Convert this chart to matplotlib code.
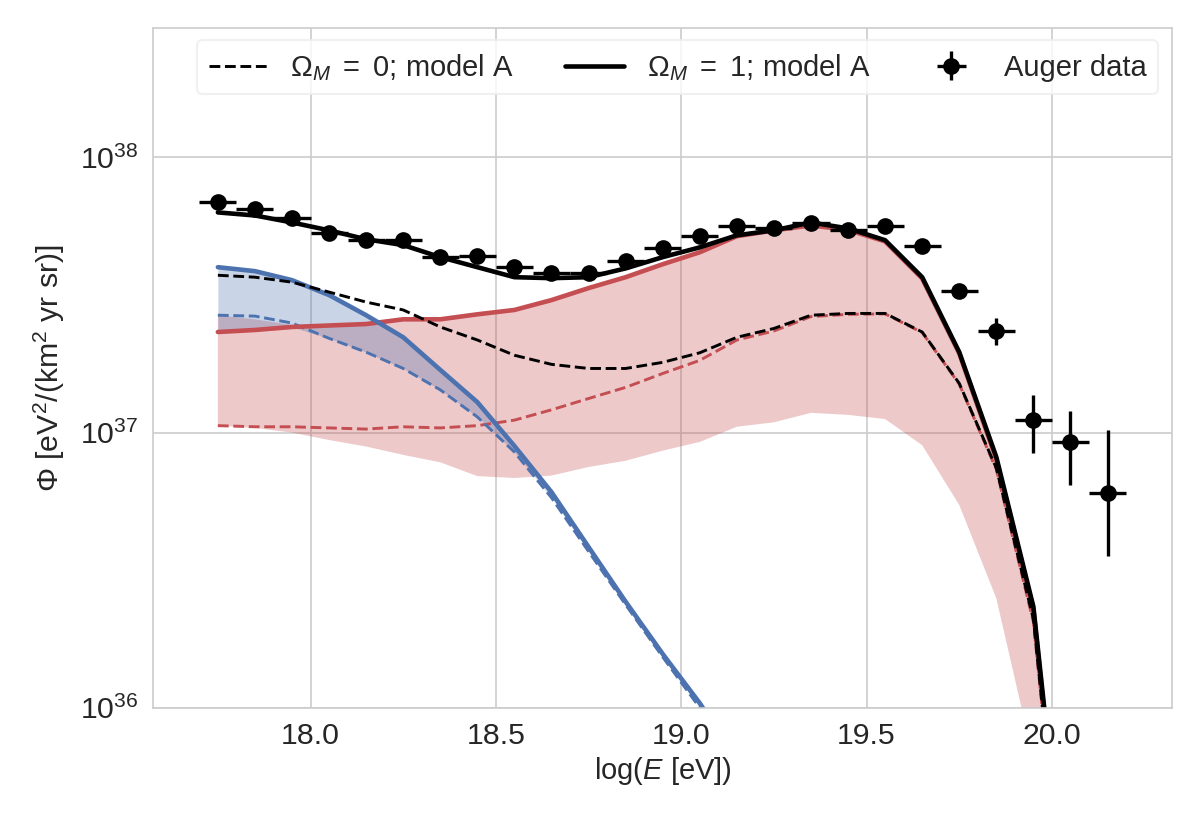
import numpy as np
import matplotlib
matplotlib.use("Agg")
import matplotlib.pyplot as plt
import seaborn as sns

sns.set_style("whitegrid")
plt.rcParams["font.family"] = ["Liberation Sans", "DejaVu Sans"]
plt.rcParams["mathtext.fontset"] = "custom"
plt.rcParams["mathtext.rm"] = "Liberation Sans"
plt.rcParams["mathtext.it"] = "Liberation Sans:italic"
plt.rcParams["mathtext.bf"] = "Liberation Sans:bold"

# Auger data
logE_data = [17.75, 17.85, 17.95, 18.05, 18.15, 18.25, 18.35, 18.45, 18.55, 18.65,
             18.75, 18.85, 18.95, 19.05, 19.15, 19.25, 19.35, 19.45, 19.55, 19.65,
             19.75, 19.85, 19.95, 20.05, 20.15]
auger_flux = [6.87e37, 6.47e37, 6.01e37, 5.30e37, 5.00e37, 5.00e37, 4.34e37, 4.37e37,
              3.99e37, 3.80e37, 3.80e37, 4.20e37, 4.68e37, 5.17e37, 5.62e37, 5.52e37,
              5.76e37, 5.43e37, 5.62e37, 4.76e37, 3.27e37, 2.34e37, 1.11e37, 9.25e36,
              6.03e36]
auger_err_lo = [0.8e36, 0.8e36, 0.8e36, 0.7e36, 0.7e36, 0.7e36, 0.7e36, 0.7e36,
                0.7e36, 0.7e36, 0.7e36, 0.8e36, 0.9e36, 1.0e36, 1.1e36, 1.2e36,
                1.3e36, 1.4e36, 1.6e36, 1.8e36, 1.6e36, 2.6e36, 2.7e36, 2.8e36,
                2.46e36]
auger_err_hi = [0.8e36, 0.8e36, 0.8e36, 0.7e36, 0.7e36, 0.7e36, 0.7e36, 0.7e36,
                0.7e36, 0.7e36, 0.7e36, 0.8e36, 0.9e36, 1.0e36, 1.1e36, 1.2e36,
                1.3e36, 1.4e36, 1.6e36, 1.8e36, 1.7e36, 2.7e36, 2.6e36, 2.75e36,
                4.2e36]
logE_err = 0.05

# model curves
logE_model = [17.75, 17.85, 17.95, 18.05, 18.15, 18.25, 18.35, 18.45, 18.55, 18.65,
              18.75, 18.85, 18.95, 19.05, 19.15, 19.25, 19.35, 19.45, 19.55, 19.65,
              19.75, 19.85, 19.95, 20.05]
total_om1 = [6.31e37, 6.15e37, 5.80e37, 5.43e37, 5.04e37, 4.80e37, 4.34e37, 3.99e37,
             3.67e37, 3.64e37, 3.67e37, 3.95e37, 4.34e37, 4.71e37, 5.21e37, 5.43e37,
             5.80e37, 5.52e37, 5.00e37, 3.67e37, 1.96e37, 8.15e36, 2.33e36, 1.3e35]
total_om0 = [3.73e37, 3.67e37, 3.52e37, 3.24e37, 2.98e37, 2.79e37, 2.42e37, 2.17e37,
             1.91e37, 1.77e37, 1.71e37, 1.71e37, 1.80e37, 1.95e37, 2.22e37, 2.39e37,
             2.67e37, 2.71e37, 2.71e37, 2.32e37, 1.51e37, 7.43e36, 2.1e36, 1.0e35]
heavy_om1 = [2.32e37, 2.36e37, 2.42e37, 2.45e37, 2.48e37, 2.58e37, 2.58e37, 2.69e37,
             2.79e37, 3.03e37, 3.35e37, 3.67e37, 4.09e37, 4.52e37, 5.17e37, 5.43e37,
             5.66e37, 5.45e37, 4.95e37, 3.63e37, 1.94e37, 8.0e36, 2.28e36, 1.2e35]
heavy_om0 = [1.06e37, 1.05e37, 1.05e37, 1.04e37, 1.03e37, 1.05e37, 1.04e37, 1.06e37,
             1.11e37, 1.21e37, 1.33e37, 1.46e37, 1.64e37, 1.83e37, 2.17e37, 2.34e37,
             2.64e37, 2.69e37, 2.70e37, 2.31e37, 1.50e37, 7.35e36, 2.05e36, 1.0e35]
heavy_band_lo = [1.06e37, 1.04e37, 1.00e37, 9.4e36, 8.9e36, 8.3e36, 7.8e36, 6.95e36,
                 6.84e36, 6.98e36, 7.5e36, 7.9e36, 8.6e36, 9.25e36, 1.05e37, 1.09e37,
                 1.18e37, 1.16e37, 1.12e37, 9.0e36, 5.46e36, 2.5e36, 6.5e35, 1.0e34]
heavy_band_hi = [2.67e37, 2.58e37, 2.46e37, 2.45e37, 2.48e37, 2.58e37, 2.58e37, 2.69e37,
                 2.79e37, 3.03e37, 3.35e37, 3.67e37, 4.09e37, 4.52e37, 5.17e37, 5.43e37,
                 5.66e37, 5.45e37, 4.95e37, 3.63e37, 1.94e37, 8.0e36, 2.28e36, 1.2e35]

logE_light = [17.75, 17.85, 17.95, 18.05, 18.15, 18.25, 18.35, 18.45, 18.55, 18.65,
              18.75, 18.85, 18.95, 19.05, 19.15]
light_om1 = [3.99e37, 3.86e37, 3.58e37, 3.16e37, 2.67e37, 2.22e37, 1.69e37, 1.29e37,
             8.94e36, 6.08e36, 3.84e36, 2.43e36, 1.57e36, 1.04e36, 6.5e35]
light_om0 = [2.67e37, 2.65e37, 2.50e37, 2.20e37, 1.96e37, 1.71e37, 1.43e37, 1.14e37,
             8.5e36, 5.8e36, 3.7e36, 2.37e36, 1.53e36, 1.0e36, 6.3e35]
light_band_lo = [2.32e37, 2.36e37, 2.42e37, 2.20e37, 1.96e37, 1.71e37, 1.43e37, 1.14e37,
                 8.5e36, 5.8e36, 3.7e36, 2.37e36, 1.53e36, 1.0e36, 6.3e35]

blue = "#4C72B0"
red = "#C44E52"

fig = plt.figure(figsize=(8, 5.5), dpi=150)
ax = fig.add_axes([0.1275, 0.142, 0.8495, 0.824])

ax.fill_between(logE_model, heavy_band_lo, heavy_band_hi, color=red, alpha=0.3, lw=0)
ax.fill_between(logE_light, light_band_lo, light_om1, color=blue, alpha=0.3, lw=0)

ax.plot(logE_model, heavy_om0, "--", color=red, lw=1.4)
ax.plot(logE_light, light_om0, "--", color=blue, lw=1.4)
ax.plot(logE_model, heavy_om1, "-", color=red, lw=2.2)
ax.plot(logE_light, light_om1, "-", color=blue, lw=2.2)
ax.plot(logE_model, total_om0, "--", color="k", lw=1.4, label=r"$\Omega_M\ =\ 0$; model A")
ax.plot(logE_model, total_om1, "-", color="k", lw=2.2, label=r"$\Omega_M\ =\ 1$; model A")

ax.errorbar(logE_data, auger_flux, xerr=logE_err, yerr=[auger_err_lo, auger_err_hi],
            fmt="o", color="k", ms=7, elinewidth=1.6, capsize=0, label="Auger data",
            zorder=5)

ax.set_yscale("log")
ax.set_xlim(17.575, 20.325)
ax.set_ylim(1e36, 2.95e38)
ax.set_xticks([18.0, 18.5, 19.0, 19.5, 20.0])
ax.set_xticklabels(["18.0", "18.5", "19.0", "19.5", "20.0"])
ax.minorticks_off()
ax.tick_params(labelsize=14.5, colors=".15")
ax.set_xlabel(r"log($E$ [eV])", fontsize=14, color=".15", labelpad=2)
ax.set_ylabel(r"$\Phi$ [eV$^2$/(km$^2$ yr sr)]", fontsize=14.5, color=".15", labelpad=6)

ax.legend(loc="upper left", bbox_to_anchor=(0.043, 0.0, 0.943, 0.982), mode="expand",
          borderaxespad=0, ncol=3, fontsize=14, frameon=True, framealpha=0.8,
          edgecolor="0.93", handlelength=2.0, borderpad=0.4)

fig.savefig("out.png", dpi=150)
